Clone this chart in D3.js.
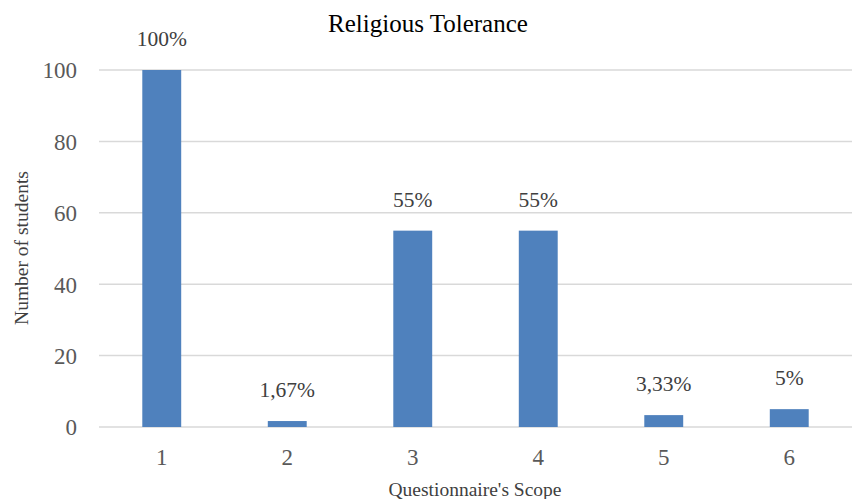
<!DOCTYPE html>
<html>
<head>
<meta charset="utf-8">
<script src="https://cdn.jsdelivr.net/npm/d3@7"></script>
<style>
  html, body { margin: 0; padding: 0; background: #fff; }
  svg text { font-family: "Liberation Serif", "Times New Roman", serif; }
</style>
</head>
<body>
<svg id="chart" width="868" height="499"></svg>
<script>
// Questionnaire scopes and the share of students for each
const scopes = ["1", "2", "3", "4", "5", "6"];
const values = [100, 1.67, 55, 55, 3.33, 5];
const valueLabels = ["100%", "1,67%", "55%", "55%", "3,33%", "5%"];
const yTicks = [0, 20, 40, 60, 80, 100];

const svg = d3.select("#chart");
const W = 868, H = 499;
const margin = { left: 99, right: 16, top: 70, bottom: 72 };
const plotW = W - margin.left - margin.right;
const plotH = H - margin.top - margin.bottom;

const x = d3.scaleBand()
  .domain(scopes)
  .range([margin.left, margin.left + plotW])
  .paddingInner(0.69)
  .paddingOuter(0.345);

const y = d3.scaleLinear()
  .domain([0, 100])
  .range([margin.top + plotH, margin.top]);

// Horizontal gridlines
svg.append("g")
  .selectAll("line")
  .data(yTicks)
  .join("line")
  .attr("x1", margin.left)
  .attr("x2", margin.left + plotW)
  .attr("y1", d => y(d))
  .attr("y2", d => y(d))
  .attr("stroke", "#d9d9d9")
  .attr("stroke-width", 1.5);

// Y axis tick labels
const yAxis = d3.axisLeft(y).tickValues(yTicks).tickSize(0).tickPadding(0);
const gy = svg.append("g")
  .attr("transform", `translate(${margin.left - 22},0)`)
  .call(yAxis);
gy.select(".domain").remove();
gy.selectAll("text")
  .attr("fill", "#595959")
  .attr("font-size", 23)
  .attr("dy", "0.34em");

// X axis tick labels
const xAxis = d3.axisBottom(x).tickSize(0).tickPadding(0);
const gx = svg.append("g")
  .attr("transform", `translate(0,${y(0) + 38})`)
  .call(xAxis);
gx.select(".domain").remove();
gx.selectAll("text")
  .attr("fill", "#595959")
  .attr("font-size", 23)
  .attr("dy", "0");

// Bars
svg.append("g")
  .selectAll("rect")
  .data(values)
  .join("rect")
  .attr("x", (d, i) => x(scopes[i]))
  .attr("width", x.bandwidth())
  .attr("y", d => y(d))
  .attr("height", d => y(0) - y(d))
  .attr("fill", "#4f81bd");

// Value labels above bars
svg.append("g")
  .selectAll("text")
  .data(values)
  .join("text")
  .attr("x", (d, i) => x(scopes[i]) + x.bandwidth() / 2)
  .attr("y", d => y(d) - 24)
  .attr("text-anchor", "middle")
  .attr("fill", "#404040")
  .attr("font-size", 21.5)
  .text((d, i) => valueLabels[i]);

// Title
svg.append("text")
  .attr("x", 428)
  .attr("y", 32)
  .attr("text-anchor", "middle")
  .attr("fill", "#000")
  .attr("font-size", 25)
  .text("Religious Tolerance");

// Axis titles
svg.append("text")
  .attr("transform", `translate(28,248) rotate(-90)`)
  .attr("text-anchor", "middle")
  .attr("fill", "#404040")
  .attr("font-size", 19.5)
  .text("Number of students");

svg.append("text")
  .attr("x", 475)
  .attr("y", 496)
  .attr("text-anchor", "middle")
  .attr("fill", "#404040")
  .attr("font-size", 19.5)
  .text("Questionnaire's Scope");
</script>
</body>
</html>
